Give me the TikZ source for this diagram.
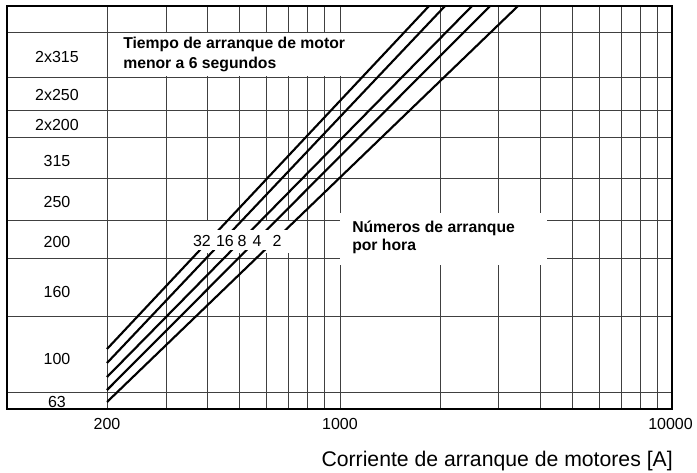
\documentclass[tikz,border=0pt]{standalone}
\usepackage{fontspec}
\setmainfont{Liberation Sans}
\begin{document}
\begin{tikzpicture}[x=0.75pt,y=-0.75pt,
  gridline/.style={draw=black!75, line width=0.75pt},
  curve/.style={draw=black, line width=1.6pt},
  lbl/.style={font=\fontsize{12}{14}\selectfont, inner sep=0pt},
  boldlbl/.style={font=\fontsize{11.8}{14}\selectfont\bfseries, inner sep=0pt, anchor=base west},
  mask/.style={fill=white, draw=none}]
\useasboundingbox (0,0) rectangle (697,472);
% horizontal grid lines
\foreach \y in {32,77,110,137,178,220,258,316,392}
  \draw[gridline] (7,\y) -- (672,\y);
% vertical grid lines (log scale, 200 ... 10000 A)
\foreach \x in {107,166,207.5,239.7,266,288,307.5,324.5,340,440,498.6,540,572.8,599,621,640.4,657.4}
  \draw[gridline] (\x,6) -- (\x,409);
% white label areas
\fill[mask] (112,32.6) rectangle (353,76.4);
\fill[mask] (339.6,213) rectangle (547,265);
\fill[mask] (193,220.6) rectangle (296,253);
% curves (numbers of starts per hour)
\coordinate (a32) at (107,349); \coordinate (b32) at (429,6);
\coordinate (a16) at (107,363); \coordinate (b16) at (445,6);
\coordinate (a8)  at (107,377); \coordinate (b8)  at (472,6);
\coordinate (a4)  at (107,390); \coordinate (b4)  at (490,6);
\coordinate (a2)  at (107,402); \coordinate (b2)  at (518,6);
\draw[curve] (a32) -- (b32);
\draw[curve] (a16) -- (b16);
\draw[curve] (a8) -- (b8);
\draw[curve] (a4) -- (b4);
\draw[curve] (a2) -- (b2);
\fill[mask] (193,230) rectangle (297,250);
% frame
\draw[line width=1.5pt] (7,6) rectangle (672,409);
% row labels
\node[lbl] (r1) at (57,57) {2x315};
\node[lbl] (r2) at (57,95) {2x250};
\node[lbl] (r3) at (57,125) {2x200};
\node[lbl] (r4) at (57,161) {315};
\node[lbl] (r5) at (57,202) {250};
\node[lbl] (r6) at (57,242) {200};
\node[lbl] (r7) at (57,292) {160};
\node[lbl] (r8) at (57,359) {100};
\node[lbl] (r9) at (57,402) {63};
% x axis labels
\node[lbl] (x1) at (107,424) {200};
\node[lbl] (x2) at (340,424) {1000};
\node[lbl] (x3) at (670.5,424) {10000};
\node[font=\fontsize{15.9}{18}\selectfont, inner sep=0pt, anchor=base east] (xt) at (673,466) {Corriente de arranque de motores [A]};
% curve labels
\node[lbl] (l32) at (202,241) {32};
\node[lbl] (l16) at (225,241) {16};
\node[lbl] (l8) at (242,241) {8};
\node[lbl] (l4) at (257,241) {4};
\node[lbl] (l2) at (277,241) {2};
% bold annotations
\node[boldlbl] (t1) at (123,48) {Tiempo de arranque de motor};
\node[boldlbl] (t2) at (123,68.5) {menor a 6 segundos};
\node[boldlbl] (n1) at (352,232) {Números de arranque};
\node[boldlbl] (n2) at (352,250.5) {por hora};
\end{tikzpicture}
\end{document}
